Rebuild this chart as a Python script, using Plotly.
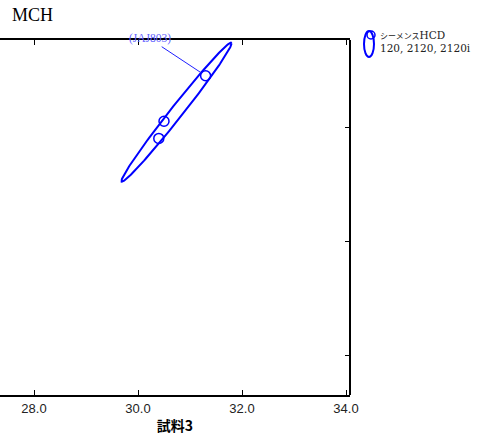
import numpy as np
import plotly.graph_objects as go

# ---- data ----
x_vals = [31.3, 30.5, 30.4]          # 試料3
y_vals = [30.9, 30.1, 29.8]          # comparison sample
point_labels = ["(JAJ803)", "", ""]

# ellipse parameters (centre, spreads, correlation)
ell_cx, ell_cy = 30.74, 30.26
ell_sx, ell_sy = 1.06, 1.22
ell_r = 0.99

x_ticks = [28.0, 30.0, 32.0, 34.0]
x_tick_text = ["28.0", "30.0", "32.0", "34.0"]
y_ticks = [26.0, 28.0, 30.0]

title_text = "MCH"
x_title = "試料3"
legend_kana = "シーメンス"
legend_latin = "HCD"
legend_line2 = "120, 2120, 2120i"

BLUE = "#0000ff"

t = np.linspace(0, 2 * np.pi, 241)
ex = ell_cx + ell_sx * np.cos(t)
ey = ell_cy + ell_sy * (ell_r * np.cos(t) + np.sqrt(1 - ell_r ** 2) * np.sin(t))

fig = go.Figure()
fig.add_trace(go.Scatter(x=ex, y=ey, mode="lines",
                         line=dict(color=BLUE, width=2),
                         hoverinfo="skip", showlegend=False))
fig.add_trace(go.Scatter(x=x_vals, y=y_vals, mode="markers",
                         marker=dict(symbol="circle-open", size=10,
                                     line=dict(color=BLUE, width=1.5), color=BLUE),
                         showlegend=False))

for xv, yv, lab in zip(x_vals, y_vals, point_labels):
    if lab:
        fig.add_annotation(x=xv, y=yv, text=lab, showarrow=True,
                           arrowhead=0, arrowwidth=1, arrowcolor="#2020ff",
                           ax=-56, ay=-37, standoff=5,
                           font=dict(family="Liberation Serif", size=11.5, color="#5f5fff"))

# legend (manual)
W_PLOT = 350.0
H_PLOT = 355.0
TOP = 40.0
def px(xp):
    return xp / W_PLOT
def py(yp):
    return (TOP + H_PLOT - yp) / H_PLOT

# right frame line
fig.add_shape(type="line", xref="paper", yref="paper", x0=1, x1=1, y0=0, y1=1,
              line=dict(color="black", width=2))

fig.add_shape(type="circle", xref="paper", yref="paper",
              xsizemode="pixel", ysizemode="pixel",
              xanchor=px(369), yanchor=py(44), x0=-5, x1=5, y0=-13, y1=13,
              line=dict(color=BLUE, width=2))
fig.add_shape(type="circle", xref="paper", yref="paper",
              xsizemode="pixel", ysizemode="pixel",
              xanchor=px(371), yanchor=py(35), x0=-4, x1=4, y0=-4, y1=4,
              line=dict(color=BLUE, width=1.5))
fig.add_annotation(xref="paper", yref="paper", x=px(379), y=py(35),
                   xanchor="left", yanchor="middle", showarrow=False, borderpad=0,
                   text=f"<span style='font-size:8px'>{legend_kana}</span>{legend_latin}",
                   font=dict(family="DejaVu Serif, Noto Sans CJK JP", size=10.5, color="#222"))
fig.add_annotation(xref="paper", yref="paper", x=px(379), y=py(48),
                   xanchor="left", yanchor="middle", showarrow=False, borderpad=0,
                   text=legend_line2,
                   font=dict(family="DejaVu Serif", size=10.5, color="#222"))

fig.update_layout(
    width=478, height=442,
    margin=dict(l=0, r=128, t=40, b=47),
    paper_bgcolor="white", plot_bgcolor="white",
    title=dict(text=title_text, xref="container", yref="container",
               x=12 / 478, xanchor="left", y=1 - 14.5 / 442, yanchor="middle",
               font=dict(family="Liberation Serif", size=18, color="black")),
    xaxis=dict(range=[28 - 34 / 52, 34 + 4 / 52], tickvals=x_ticks, ticktext=x_tick_text,
               ticks="inside", ticklen=5, tickcolor="black", tickwidth=1,
               showline=True, linecolor="black", linewidth=2, mirror="ticks",
               showgrid=False, zeroline=False,
               tickfont=dict(family="Liberation Sans", size=13, color="#222"),
               title=dict(text=f"<b>{x_title}</b>", standoff=7,
                          font=dict(family="Noto Sans CJK JP, Liberation Sans", size=14, color="black"))),
    yaxis=dict(range=[26 - 40 / 57, 30 + 87 / 57], tickvals=y_ticks, side="right",
               ticks="inside", ticklen=5, tickcolor="black", tickwidth=1,
               showline=False,
               showticklabels=False, showgrid=False, zeroline=False),
    showlegend=False,
)

fig.write_html("out.html", config={"displayModeBar": False},
               post_script="document.body.style.margin='0';")
